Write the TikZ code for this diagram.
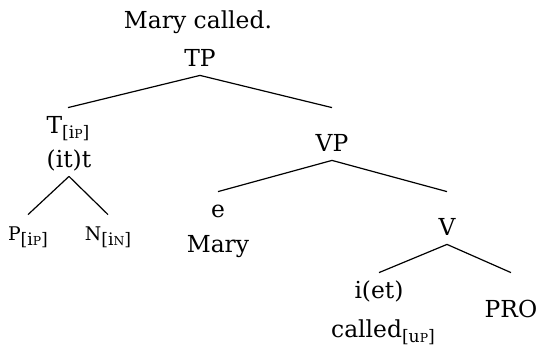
\documentclass[tikz,border=0pt]{standalone}
\usepackage{fontspec}
\setmainfont{DejaVu Serif}
\newcommand{\fakesc}[1]{\scalebox{0.72}{#1}}
\newcommand{\feat}[2]{\raisebox{-2.6pt}{\fontsize{8.6}{9}\selectfont[#1\fakesc{#2}]}}
\begin{document}
\begin{tikzpicture}[x=0.5pt,y=-0.5pt,
  lbl/.style={inner sep=0pt,anchor=base,text height=12.5pt,text depth=4.5pt,font=\fontsize{11.7}{14}\selectfont},
  slbl/.style={lbl,font=\fontsize{9.4}{11}\selectfont},
  branch/.style={line width=0.6pt}]
\useasboundingbox (0,0) rectangle (537,349);
\node[lbl](title) at (198,28){Mary called.};
\node[lbl](tp) at (200,66){TP};
\node[lbl](t) at (68,133){T\feat{i}{P}};
\node[lbl](tt) at (69,167){(it)t};
\node[lbl](vp) at (332,151){VP};
\node[slbl](p) at (28,240){P\feat{i}{P}};
\node[slbl](n) at (108,240){N\feat{i}{N}};
\node[lbl](e) at (218,217){e};
\node[lbl](mary) at (218,252){Mary};
\node[lbl](v) at (447,235){V};
\node[lbl](iet) at (379,298){i(et)};
\node[lbl](called) at (383,337){called\feat{u}{P}};
\node[lbl](pro) at (511,317){PRO};
\draw[branch](tp.south)--(t.north);
\draw[branch](tp.south)--(vp.north |- t.north);
\draw[branch](tt.south)--(p.north);
\draw[branch](tt.south)--(n.north);
\draw[branch](vp.south)--(e.north);
\draw[branch](vp.south)--(v.north |- e.north);
\draw[branch](v.south)--(iet.north);
\draw[branch](v.south)--(pro.north |- iet.north);
\end{tikzpicture}
\end{document}
